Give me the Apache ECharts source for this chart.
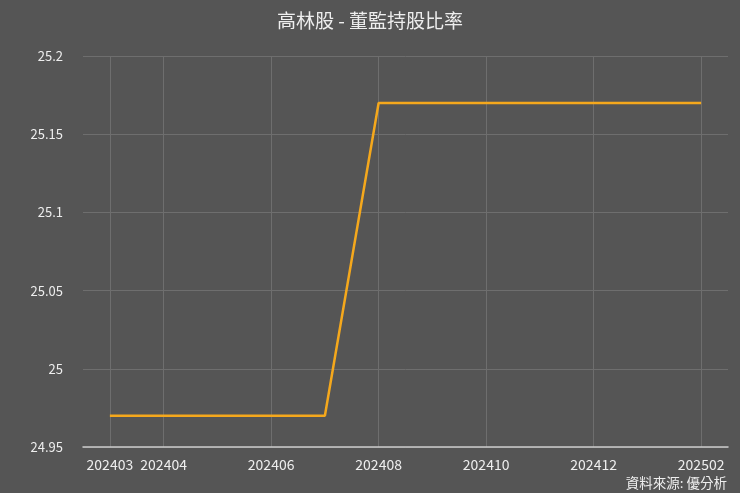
<!DOCTYPE html>
<html>
<head>
<meta charset="utf-8">
<script src="https://cdn.jsdelivr.net/npm/echarts@6/dist/echarts.min.js"></script>
<style>html,body{margin:0;padding:0;background:#555555;}#c{width:740px;height:493px;}</style>
</head>
<body>
<div id="c"></div>
<script>
var months = ['202403','202404','202405','202406','202407','202408','202409','202410','202411','202412','202501','202502'];
var ratio = [24.97,24.97,24.97,24.97,24.97,25.17,25.17,25.17,25.17,25.17,25.17,25.17];
var shownLabels = ['202403','202404','202406','202408','202410','202412','202502'];
var yTicks = [24.95, 25.0, 25.05, 25.1, 25.15, 25.2];

var font = '"Noto Sans CJK TC", "Noto Sans", sans-serif';
function showIdx(i){ return shownLabels.indexOf(months[i]) >= 0; }
var chart = echarts.init(document.getElementById('c'));
chart.setOption({
  backgroundColor: '#555555',
  animation: false,
  title: {
    text: '高林股 - 董監持股比率',
    left: 'center', top: 6,
    textStyle: {color: '#eeeeee', fontSize: 19, fontWeight: 'normal', fontFamily: font}
  },
  graphic: [{
    type: 'text', right: 13, bottom: 3,
    style: {text: '資料來源: 優分析', fill: '#eeeeee', font: '13.5px ' + font}
  }],
  grid: {left: 83, right: 12, top: 56, bottom: 46},
  xAxis: {
    type: 'category', data: months, boundaryGap: true,
    axisLine: {lineStyle: {color: '#cccccc', width: 1.5}},
    axisTick: {show: false, alignWithLabel: true},
    axisLabel: {interval: function(i){ return showIdx(i); }, color: '#eeeeee', fontSize: 14, fontFamily: font, margin: 11},
    splitLine: {show: true, alignWithLabel: true, interval: function(i){ return showIdx(i); }, lineStyle: {color: '#6e6e6e', width: 1}}
  },
  yAxis: {
    type: 'value', min: yTicks[0], max: yTicks[yTicks.length-1], interval: 0.05,
    axisLine: {show: false}, axisTick: {show: false},
    axisLabel: {color: '#eeeeee', fontSize: 13, fontFamily: font, margin: 20,
      formatter: function(v){ return String(parseFloat(v.toFixed(2))); }},
    splitLine: {lineStyle: {color: '#6e6e6e', width: 1}}
  },
  series: [{
    type: 'line', data: ratio, symbol: 'none',
    lineStyle: {color: '#f5a81c', width: 2.5}
  }]
});
</script>
</body>
</html>
